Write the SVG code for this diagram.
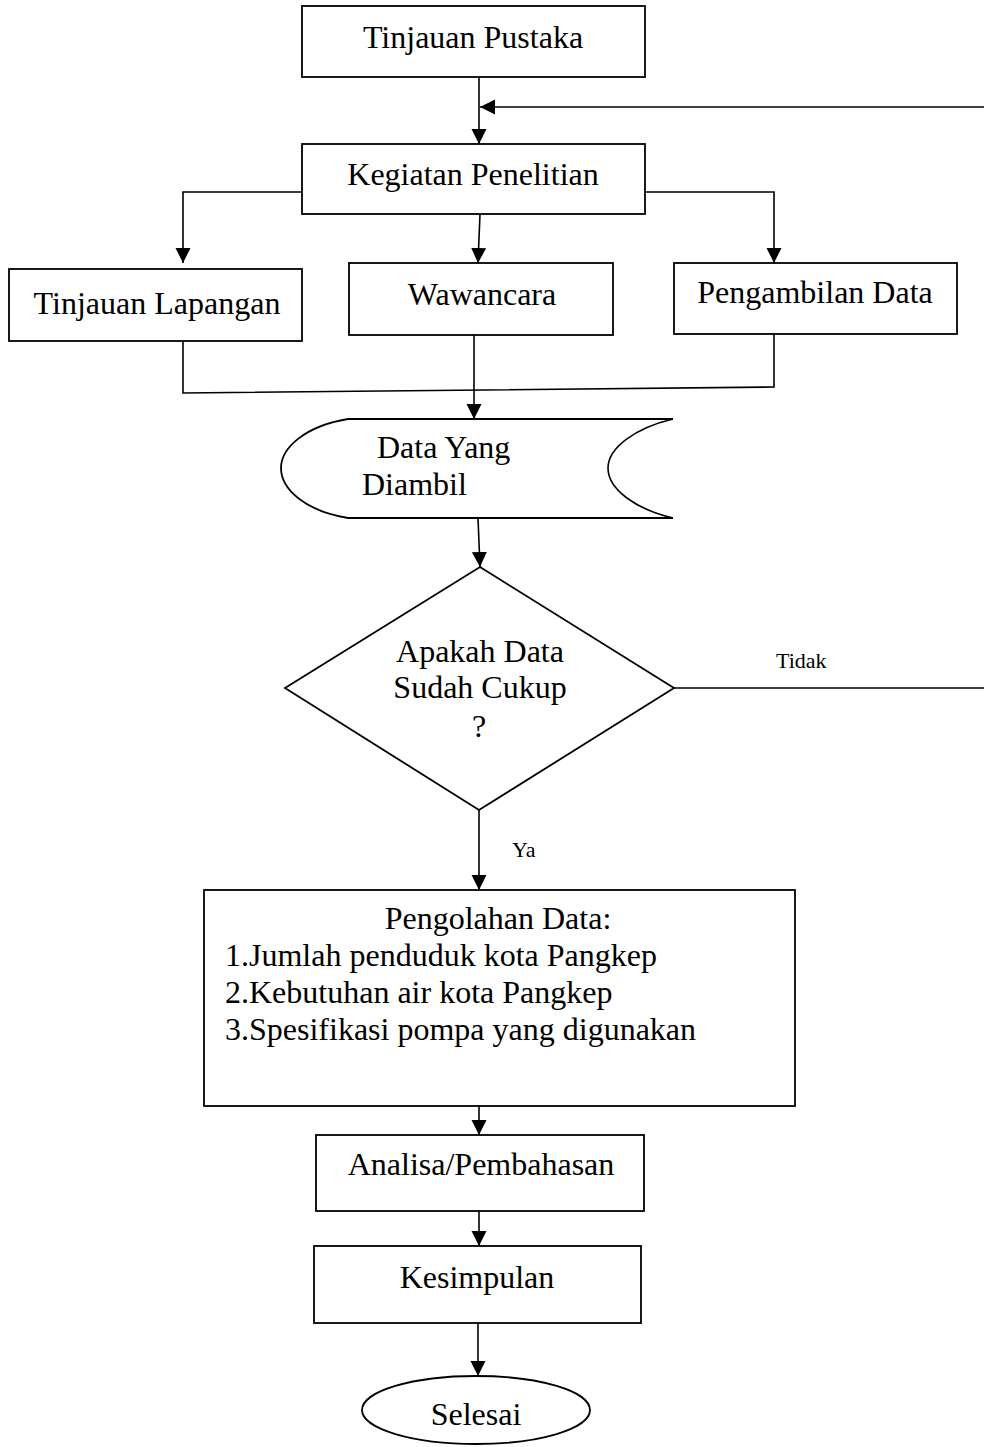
<svg xmlns="http://www.w3.org/2000/svg" width="984" height="1447" viewBox="0 0 984 1447">
<style>
.box{fill:#fff;stroke:#000;stroke-width:1.8}
.ln{fill:none;stroke:#000;stroke-width:1.6}
.t{font-family:"Liberation Serif","Times New Roman",serif;font-size:32px;fill:#000}
.c{text-anchor:middle}
.s{font-family:"Liberation Serif","Times New Roman",serif;font-size:22px;fill:#000}
</style>
<defs>
<marker id="ah" markerUnits="userSpaceOnUse" markerWidth="16" markerHeight="16" refX="15" refY="7.5" orient="auto">
<path d="M0,0 L15,7.5 L0,15 z" fill="#000"/>
</marker>
</defs>
<rect width="984" height="1447" fill="#fff"/>
<g id="connectors">
<path class="ln" d="M479,77 L479,144" marker-end="url(#ah)"/>
<path class="ln" d="M990,107 L480,107" marker-end="url(#ah)"/>
<path class="ln" d="M674,688 L990,688"/>
<path class="ln" d="M302,192 L183,192 L183,263" marker-end="url(#ah)"/>
<path class="ln" d="M480,214 L478,263" marker-end="url(#ah)"/>
<path class="ln" d="M643,192 L774,192 L774,263" marker-end="url(#ah)"/>
<path class="ln" d="M183,341 L183,393 L774,387 L774,334"/>
<path class="ln" d="M474,335 L474,419" marker-end="url(#ah)"/>
<path class="ln" d="M478,518 L480,567" marker-end="url(#ah)"/>
<path class="ln" d="M479,810 L479,890" marker-end="url(#ah)"/>
<path class="ln" d="M479,1095 L479,1135" marker-end="url(#ah)"/>
<path class="ln" d="M479,1211 L479,1246" marker-end="url(#ah)"/>
<path class="ln" d="M478,1323 L478,1376" marker-end="url(#ah)"/>
<text class="s" x="776" y="668">Tidak</text>
<text class="s" x="512" y="857">Ya</text>
</g>
<g id="tinjauan-pustaka">
<rect class="box" x="302" y="6" width="343" height="71"/>
<text class="t c" x="473" y="48">Tinjauan Pustaka</text>
</g>
<g id="kegiatan-penelitian">
<rect class="box" x="302" y="144" width="343" height="70"/>
<text class="t c" x="473" y="185">Kegiatan Penelitian</text>
</g>
<g id="tinjauan-lapangan">
<rect class="box" x="9" y="269" width="293" height="72"/>
<text class="t c" x="157" y="314">Tinjauan Lapangan</text>
</g>
<g id="wawancara">
<rect class="box" x="349" y="263" width="264" height="72"/>
<text class="t c" x="482" y="305">Wawancara</text>
</g>
<g id="pengambilan-data">
<rect class="box" x="674" y="263" width="283" height="71"/>
<text class="t c" x="815" y="303">Pengambilan Data</text>
</g>
<g id="data-yang-diambil">
<path class="box" d="M673,419 L348,419 C305,426 281,448 281,468 C281,489 305,511 348,518 L673,518"/>
<path class="ln" d="M673,419 C635,428 608,448 608,468 C608,489 635,509 673,518"/>
<text class="t" x="377" y="458">Data Yang</text>
<text class="t" x="362" y="495">Diambil</text>
</g>
<g id="apakah-data-cukup">
<polygon class="box" points="480,567 674,688 479,810 285,688"/>
<text class="t c" x="480" y="662">Apakah Data</text>
<text class="t c" x="480" y="698">Sudah Cukup</text>
<text class="t c" x="479" y="737">?</text>
</g>
<g id="pengolahan-data">
<rect class="box" x="204" y="890" width="591" height="216"/>
<text class="t c" x="498" y="929">Pengolahan Data:</text>
<text class="t" x="225" y="966">1.Jumlah penduduk kota Pangkep</text>
<text class="t" x="225" y="1003">2.Kebutuhan air kota Pangkep</text>
<text class="t" x="225" y="1040">3.Spesifikasi pompa yang digunakan</text>
</g>
<g id="analisa">
<rect class="box" x="316" y="1135" width="328" height="76"/>
<text class="t c" x="481" y="1175">Analisa/Pembahasan</text>
</g>
<g id="kesimpulan">
<rect class="box" x="314" y="1246" width="327" height="77"/>
<text class="t c" x="477" y="1288">Kesimpulan</text>
</g>
<g id="selesai">
<ellipse class="box" cx="476" cy="1410" rx="114" ry="34"/>
<text class="t c" x="476" y="1425">Selesai</text>
</g>
</svg>
